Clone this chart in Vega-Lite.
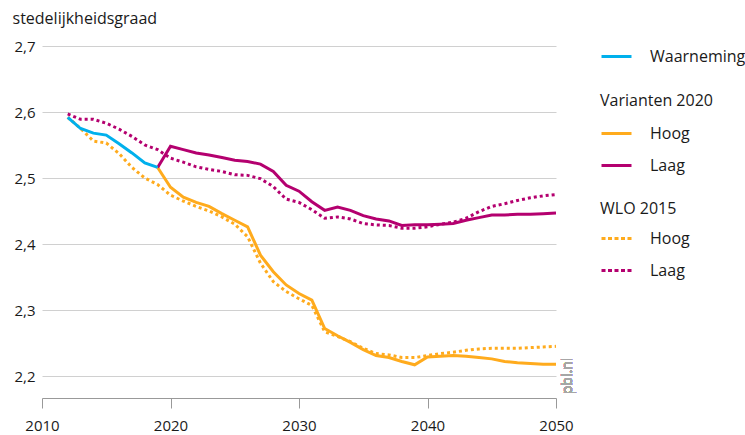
{
  "$schema": "https://vega.github.io/schema/vega-lite/v6.json",
  "autosize": "none",
  "width": 514,
  "height": 352,
  "padding": {"left": 42, "top": 46, "right": 189, "bottom": 37},
  "background": "white",
  "config": {
    "font": "Open Sans",
    "view": {"stroke": null},
    "axis": {"labelFont": "Open Sans", "labelFontSize": 15, "labelColor": "#1a1a1a", "titleFont": "Open Sans", "titleColor": "#1a1a1a"},
    "legend": {"labelFont": "Open Sans", "labelFontSize": 16, "labelColor": "#1a1a1a", "titleFont": "Open Sans", "titleFontSize": 16, "titleFontWeight": "normal", "titleColor": "#1a1a1a", "symbolType": "stroke", "symbolSize": 900, "symbolStrokeWidth": 3, "rowPadding": 7, "labelOffset": 17, "padding": 0, "titlePadding": 8}
  },
  "data": {
    "values": [
      {"year": 2012, "value": 2.592, "set": "Waarneming", "label": "Waarneming"},
      {"year": 2013, "value": 2.575, "set": "Waarneming", "label": "Waarneming"},
      {"year": 2014, "value": 2.568, "set": "Waarneming", "label": "Waarneming"},
      {"year": 2015, "value": 2.565, "set": "Waarneming", "label": "Waarneming"},
      {"year": 2016, "value": 2.552, "set": "Waarneming", "label": "Waarneming"},
      {"year": 2017, "value": 2.538, "set": "Waarneming", "label": "Waarneming"},
      {"year": 2018, "value": 2.523, "set": "Waarneming", "label": "Waarneming"},
      {"year": 2019, "value": 2.516, "set": "Waarneming", "label": "Waarneming"},

      {"year": 2019, "value": 2.516, "set": "V2020", "label": "Hoog"},
      {"year": 2020, "value": 2.486, "set": "V2020", "label": "Hoog"},
      {"year": 2021, "value": 2.471, "set": "V2020", "label": "Hoog"},
      {"year": 2022, "value": 2.463, "set": "V2020", "label": "Hoog"},
      {"year": 2023, "value": 2.457, "set": "V2020", "label": "Hoog"},
      {"year": 2024, "value": 2.446, "set": "V2020", "label": "Hoog"},
      {"year": 2025, "value": 2.436, "set": "V2020", "label": "Hoog"},
      {"year": 2026, "value": 2.426, "set": "V2020", "label": "Hoog"},
      {"year": 2027, "value": 2.383, "set": "V2020", "label": "Hoog"},
      {"year": 2028, "value": 2.358, "set": "V2020", "label": "Hoog"},
      {"year": 2029, "value": 2.338, "set": "V2020", "label": "Hoog"},
      {"year": 2030, "value": 2.325, "set": "V2020", "label": "Hoog"},
      {"year": 2031, "value": 2.315, "set": "V2020", "label": "Hoog"},
      {"year": 2032, "value": 2.272, "set": "V2020", "label": "Hoog"},
      {"year": 2033, "value": 2.261, "set": "V2020", "label": "Hoog"},
      {"year": 2034, "value": 2.251, "set": "V2020", "label": "Hoog"},
      {"year": 2035, "value": 2.240, "set": "V2020", "label": "Hoog"},
      {"year": 2036, "value": 2.231, "set": "V2020", "label": "Hoog"},
      {"year": 2037, "value": 2.228, "set": "V2020", "label": "Hoog"},
      {"year": 2038, "value": 2.222, "set": "V2020", "label": "Hoog"},
      {"year": 2039, "value": 2.217, "set": "V2020", "label": "Hoog"},
      {"year": 2040, "value": 2.229, "set": "V2020", "label": "Hoog"},
      {"year": 2041, "value": 2.230, "set": "V2020", "label": "Hoog"},
      {"year": 2042, "value": 2.231, "set": "V2020", "label": "Hoog"},
      {"year": 2043, "value": 2.230, "set": "V2020", "label": "Hoog"},
      {"year": 2044, "value": 2.228, "set": "V2020", "label": "Hoog"},
      {"year": 2045, "value": 2.226, "set": "V2020", "label": "Hoog"},
      {"year": 2046, "value": 2.222, "set": "V2020", "label": "Hoog"},
      {"year": 2047, "value": 2.220, "set": "V2020", "label": "Hoog"},
      {"year": 2048, "value": 2.219, "set": "V2020", "label": "Hoog"},
      {"year": 2049, "value": 2.218, "set": "V2020", "label": "Hoog"},
      {"year": 2050, "value": 2.218, "set": "V2020", "label": "Hoog"},

      {"year": 2019, "value": 2.516, "set": "V2020", "label": "Laag"},
      {"year": 2020, "value": 2.548, "set": "V2020", "label": "Laag"},
      {"year": 2021, "value": 2.543, "set": "V2020", "label": "Laag"},
      {"year": 2022, "value": 2.538, "set": "V2020", "label": "Laag"},
      {"year": 2023, "value": 2.535, "set": "V2020", "label": "Laag"},
      {"year": 2024, "value": 2.531, "set": "V2020", "label": "Laag"},
      {"year": 2025, "value": 2.527, "set": "V2020", "label": "Laag"},
      {"year": 2026, "value": 2.525, "set": "V2020", "label": "Laag"},
      {"year": 2027, "value": 2.521, "set": "V2020", "label": "Laag"},
      {"year": 2028, "value": 2.510, "set": "V2020", "label": "Laag"},
      {"year": 2029, "value": 2.489, "set": "V2020", "label": "Laag"},
      {"year": 2030, "value": 2.480, "set": "V2020", "label": "Laag"},
      {"year": 2031, "value": 2.464, "set": "V2020", "label": "Laag"},
      {"year": 2032, "value": 2.451, "set": "V2020", "label": "Laag"},
      {"year": 2033, "value": 2.456, "set": "V2020", "label": "Laag"},
      {"year": 2034, "value": 2.451, "set": "V2020", "label": "Laag"},
      {"year": 2035, "value": 2.443, "set": "V2020", "label": "Laag"},
      {"year": 2036, "value": 2.438, "set": "V2020", "label": "Laag"},
      {"year": 2037, "value": 2.435, "set": "V2020", "label": "Laag"},
      {"year": 2038, "value": 2.428, "set": "V2020", "label": "Laag"},
      {"year": 2039, "value": 2.429, "set": "V2020", "label": "Laag"},
      {"year": 2040, "value": 2.429, "set": "V2020", "label": "Laag"},
      {"year": 2041, "value": 2.430, "set": "V2020", "label": "Laag"},
      {"year": 2042, "value": 2.431, "set": "V2020", "label": "Laag"},
      {"year": 2043, "value": 2.436, "set": "V2020", "label": "Laag"},
      {"year": 2044, "value": 2.440, "set": "V2020", "label": "Laag"},
      {"year": 2045, "value": 2.444, "set": "V2020", "label": "Laag"},
      {"year": 2046, "value": 2.444, "set": "V2020", "label": "Laag"},
      {"year": 2047, "value": 2.445, "set": "V2020", "label": "Laag"},
      {"year": 2048, "value": 2.445, "set": "V2020", "label": "Laag"},
      {"year": 2049, "value": 2.446, "set": "V2020", "label": "Laag"},
      {"year": 2050, "value": 2.447, "set": "V2020", "label": "Laag"},

      {"year": 2012, "value": 2.592, "set": "WLO", "label": "Hoog"},
      {"year": 2013, "value": 2.575, "set": "WLO", "label": "Hoog"},
      {"year": 2014, "value": 2.556, "set": "WLO", "label": "Hoog"},
      {"year": 2015, "value": 2.553, "set": "WLO", "label": "Hoog"},
      {"year": 2016, "value": 2.537, "set": "WLO", "label": "Hoog"},
      {"year": 2017, "value": 2.516, "set": "WLO", "label": "Hoog"},
      {"year": 2018, "value": 2.500, "set": "WLO", "label": "Hoog"},
      {"year": 2019, "value": 2.490, "set": "WLO", "label": "Hoog"},
      {"year": 2020, "value": 2.474, "set": "WLO", "label": "Hoog"},
      {"year": 2021, "value": 2.465, "set": "WLO", "label": "Hoog"},
      {"year": 2022, "value": 2.457, "set": "WLO", "label": "Hoog"},
      {"year": 2023, "value": 2.450, "set": "WLO", "label": "Hoog"},
      {"year": 2024, "value": 2.441, "set": "WLO", "label": "Hoog"},
      {"year": 2025, "value": 2.430, "set": "WLO", "label": "Hoog"},
      {"year": 2026, "value": 2.411, "set": "WLO", "label": "Hoog"},
      {"year": 2027, "value": 2.371, "set": "WLO", "label": "Hoog"},
      {"year": 2028, "value": 2.343, "set": "WLO", "label": "Hoog"},
      {"year": 2029, "value": 2.328, "set": "WLO", "label": "Hoog"},
      {"year": 2030, "value": 2.317, "set": "WLO", "label": "Hoog"},
      {"year": 2031, "value": 2.307, "set": "WLO", "label": "Hoog"},
      {"year": 2032, "value": 2.267, "set": "WLO", "label": "Hoog"},
      {"year": 2033, "value": 2.260, "set": "WLO", "label": "Hoog"},
      {"year": 2034, "value": 2.252, "set": "WLO", "label": "Hoog"},
      {"year": 2035, "value": 2.242, "set": "WLO", "label": "Hoog"},
      {"year": 2036, "value": 2.234, "set": "WLO", "label": "Hoog"},
      {"year": 2037, "value": 2.232, "set": "WLO", "label": "Hoog"},
      {"year": 2038, "value": 2.228, "set": "WLO", "label": "Hoog"},
      {"year": 2039, "value": 2.228, "set": "WLO", "label": "Hoog"},
      {"year": 2040, "value": 2.231, "set": "WLO", "label": "Hoog"},
      {"year": 2041, "value": 2.234, "set": "WLO", "label": "Hoog"},
      {"year": 2042, "value": 2.236, "set": "WLO", "label": "Hoog"},
      {"year": 2043, "value": 2.239, "set": "WLO", "label": "Hoog"},
      {"year": 2044, "value": 2.241, "set": "WLO", "label": "Hoog"},
      {"year": 2045, "value": 2.242, "set": "WLO", "label": "Hoog"},
      {"year": 2046, "value": 2.242, "set": "WLO", "label": "Hoog"},
      {"year": 2047, "value": 2.242, "set": "WLO", "label": "Hoog"},
      {"year": 2048, "value": 2.243, "set": "WLO", "label": "Hoog"},
      {"year": 2049, "value": 2.244, "set": "WLO", "label": "Hoog"},
      {"year": 2050, "value": 2.245, "set": "WLO", "label": "Hoog"},

      {"year": 2012, "value": 2.597, "set": "WLO", "label": "Laag"},
      {"year": 2013, "value": 2.589, "set": "WLO", "label": "Laag"},
      {"year": 2014, "value": 2.589, "set": "WLO", "label": "Laag"},
      {"year": 2015, "value": 2.583, "set": "WLO", "label": "Laag"},
      {"year": 2016, "value": 2.574, "set": "WLO", "label": "Laag"},
      {"year": 2017, "value": 2.563, "set": "WLO", "label": "Laag"},
      {"year": 2018, "value": 2.550, "set": "WLO", "label": "Laag"},
      {"year": 2019, "value": 2.543, "set": "WLO", "label": "Laag"},
      {"year": 2020, "value": 2.530, "set": "WLO", "label": "Laag"},
      {"year": 2021, "value": 2.524, "set": "WLO", "label": "Laag"},
      {"year": 2022, "value": 2.517, "set": "WLO", "label": "Laag"},
      {"year": 2023, "value": 2.513, "set": "WLO", "label": "Laag"},
      {"year": 2024, "value": 2.510, "set": "WLO", "label": "Laag"},
      {"year": 2025, "value": 2.505, "set": "WLO", "label": "Laag"},
      {"year": 2026, "value": 2.504, "set": "WLO", "label": "Laag"},
      {"year": 2027, "value": 2.499, "set": "WLO", "label": "Laag"},
      {"year": 2028, "value": 2.487, "set": "WLO", "label": "Laag"},
      {"year": 2029, "value": 2.468, "set": "WLO", "label": "Laag"},
      {"year": 2030, "value": 2.463, "set": "WLO", "label": "Laag"},
      {"year": 2031, "value": 2.452, "set": "WLO", "label": "Laag"},
      {"year": 2032, "value": 2.439, "set": "WLO", "label": "Laag"},
      {"year": 2033, "value": 2.441, "set": "WLO", "label": "Laag"},
      {"year": 2034, "value": 2.438, "set": "WLO", "label": "Laag"},
      {"year": 2035, "value": 2.431, "set": "WLO", "label": "Laag"},
      {"year": 2036, "value": 2.429, "set": "WLO", "label": "Laag"},
      {"year": 2037, "value": 2.428, "set": "WLO", "label": "Laag"},
      {"year": 2038, "value": 2.424, "set": "WLO", "label": "Laag"},
      {"year": 2039, "value": 2.424, "set": "WLO", "label": "Laag"},
      {"year": 2040, "value": 2.426, "set": "WLO", "label": "Laag"},
      {"year": 2041, "value": 2.430, "set": "WLO", "label": "Laag"},
      {"year": 2042, "value": 2.433, "set": "WLO", "label": "Laag"},
      {"year": 2043, "value": 2.439, "set": "WLO", "label": "Laag"},
      {"year": 2044, "value": 2.449, "set": "WLO", "label": "Laag"},
      {"year": 2045, "value": 2.457, "set": "WLO", "label": "Laag"},
      {"year": 2046, "value": 2.461, "set": "WLO", "label": "Laag"},
      {"year": 2047, "value": 2.466, "set": "WLO", "label": "Laag"},
      {"year": 2048, "value": 2.470, "set": "WLO", "label": "Laag"},
      {"year": 2049, "value": 2.473, "set": "WLO", "label": "Laag"},
      {"year": 2050, "value": 2.475, "set": "WLO", "label": "Laag"}
    ]
  },
  "encoding": {
    "x": {
      "field": "year", "type": "quantitative",
      "scale": {"domain": [2010, 2050], "nice": false, "zero": false},
      "axis": {"title": null, "values": [2010, 2020, 2030, 2040, 2050], "format": "d", "grid": false, "domainColor": "#999999", "tickColor": "#999999", "tickSize": 10, "labelPadding": 10, "labelFlush": false}
    },
    "y": {
      "field": "value", "type": "quantitative",
      "scale": {"domain": [2.1667, 2.7], "nice": false, "zero": false},
      "axis": {"title": "stedelijkheidsgraad", "titleAngle": 0, "titleAlign": "left", "titleBaseline": "middle", "titleX": -30, "titleY": -28, "titleFontSize": 16, "titleFontWeight": "normal", "values": [2.2, 2.3, 2.4, 2.5, 2.6, 2.7], "labelExpr": "replace(format(datum.value, '.1f'), '.', ',')", "domain": false, "ticks": false, "labelPadding": 7, "gridColor": "#d0d0d0", "gridWidth": 1}
    }
  },
  "layer": [
    {
      "transform": [{"filter": "datum.set === 'WLO'"}],
      "mark": {"type": "line", "strokeWidth": 3, "strokeDash": [3, 3], "strokeCap": "butt"},
      "encoding": {
        "color": {"field": "label", "type": "nominal", "scale": {"domain": ["Hoog", "Laag"], "range": ["#ffab1d", "#b4006f"]}, "legend": {"title": "WLO 2015", "orient": "none", "legendX": 558, "legendY": 155, "titlePadding": 5, "symbolDash": [4, 2.5]}}
      }
    },
    {
      "transform": [{"filter": "datum.set === 'V2020'"}],
      "mark": {"type": "line", "strokeWidth": 3},
      "encoding": {
        "color": {"field": "label", "type": "nominal", "scale": {"domain": ["Hoog", "Laag"], "range": ["#ffab1d", "#b4006f"]}, "legend": {"title": "Varianten 2020", "orient": "none", "legendX": 558, "legendY": 47}}
      }
    },
    {
      "transform": [{"filter": "datum.set === 'Waarneming'"}],
      "mark": {"type": "line", "strokeWidth": 3},
      "encoding": {
        "color": {"field": "label", "type": "nominal", "scale": {"domain": ["Waarneming"], "range": ["#00b0ec"]}, "legend": {"title": null, "orient": "none", "legendX": 558, "legendY": -6}}
      }
    },
    {
      "mark": {"type": "text", "text": "pbl.nl", "angle": 270, "align": "center", "baseline": "middle", "dy": 12, "fontSize": 14, "fontWeight": "normal", "color": "#a6a6a6", "font": "Open Sans"},
      "encoding": {"x": {"datum": 2050}, "y": {"datum": 2.2}}
    }
  ],
  "resolve": {"scale": {"color": "independent"}}
}
